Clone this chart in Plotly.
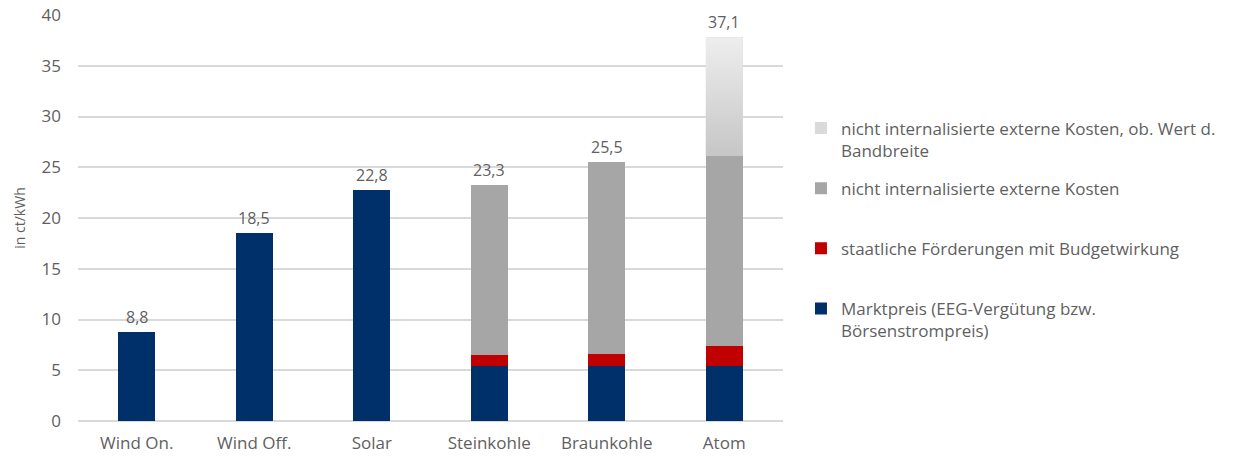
import plotly.graph_objects as go

categories = ["Wind On.", "Wind Off.", "Solar", "Steinkohle", "Braunkohle", "Atom"]
marktpreis = [8.8, 18.5, 22.8, 5.45, 5.45, 5.45]
foerderung = [0, 0, 0, 1.05, 1.15, 1.95]
extern = [0, 0, 0, 16.8, 18.9, 18.7]
extern_oben = [0, 0, 0, 0, 0, 11.7]
total_labels = ["8,8", "18,5", "22,8", "23,3", "25,5", "37,1"]

names = [
    "Marktpreis (EEG-Vergütung bzw.<br>Börsenstrompreis)",
    "staatliche Förderungen mit Budgetwirkung<br>&nbsp;",
    "nicht internalisierte externe Kosten<br>&nbsp;",
    "nicht internalisierte externe Kosten, ob. Wert d.<br>Bandbreite",
]
colors = ["#003069", "#c00000", "#a6a6a6", "#dadada"]
ranks = [4, 3, 2, 1]
series = [marktpreis, foerderung, extern, extern_oben]

FONT = "Open Sans"
TXT = "#5f5f5f"
W = 0.315
xs = list(range(len(categories)))

fig = go.Figure()
for i, (nm, col, vals, rk) in enumerate(zip(names, colors, series, ranks)):
    fig.add_trace(go.Bar(
        x=xs, y=vals, name=nm, marker=dict(color=col, line=dict(width=0)),
        width=W, legendgroup=f"g{i}", legendrank=rk, hoverinfo="skip",
    ))

# gradient overlay for the upper-band segment
for i, v in enumerate(extern_oben):
    if v > 0:
        base = marktpreis[i] + foerderung[i] + extern[i]
        top = base + v
        fig.add_trace(go.Scatter(
            x=[i - W / 2, i + W / 2, i + W / 2, i - W / 2, i - W / 2],
            y=[base, base, top, top, base],
            mode="lines", line=dict(width=0), fill="toself",
            fillgradient=dict(type="vertical",
                              colorscale=[[0, "#c6c6c6"], [1, "#eeeeee"]]),
            showlegend=False, hoverinfo="skip",
        ))

tops = [a + b + c + d for a, b, c, d in zip(marktpreis, foerderung, extern, extern_oben)]
for x, t, lab in zip(xs, tops, total_labels):
    fig.add_annotation(
        x=x, y=t, text=lab, showarrow=False, yanchor="bottom", yshift=2,
        font=dict(family=FONT, size=16, color=TXT),
    )

fig.update_layout(
    width=1234, height=456,
    barmode="stack",
    bargap=0,
    paper_bgcolor="white", plot_bgcolor="white",
    margin=dict(l=78, r=451, t=15, b=35, autoexpand=False),
    font=dict(family=FONT, size=15, color=TXT),
    separators=",.",
    legend=dict(
        x=1.0255, y=0.765, xanchor="left", yanchor="top",
        traceorder="grouped", tracegroupgap=13, valign="top",
        font=dict(family=FONT, size=17, color=TXT),
        itemwidth=30, bgcolor="rgba(0,0,0,0)",
    ),
    xaxis=dict(
        range=[-0.5, 5.5], tickvals=xs, ticktext=categories, showgrid=False,
        zeroline=False, showline=False, ticks="", ticklabelstandoff=10,
        tickfont=dict(family=FONT, size=17, color=TXT),
    ),
    yaxis=dict(
        range=[0, 40], dtick=5, showgrid=True, gridcolor="#d9d9d9", gridwidth=1.5,
        zeroline=True, zerolinecolor="#d9d9d9", zerolinewidth=1.5,
        showline=False, ticks="", ticklabelstandoff=16,
        tickfont=dict(family=FONT, size=17, color=TXT),
        title=dict(text="in ct/kWh", font=dict(family=FONT, size=14, color=TXT), standoff=12),
    ),
)

fig.write_html("out.html", config={"displayModeBar": False},
               post_script="document.body.style.margin='0';")
